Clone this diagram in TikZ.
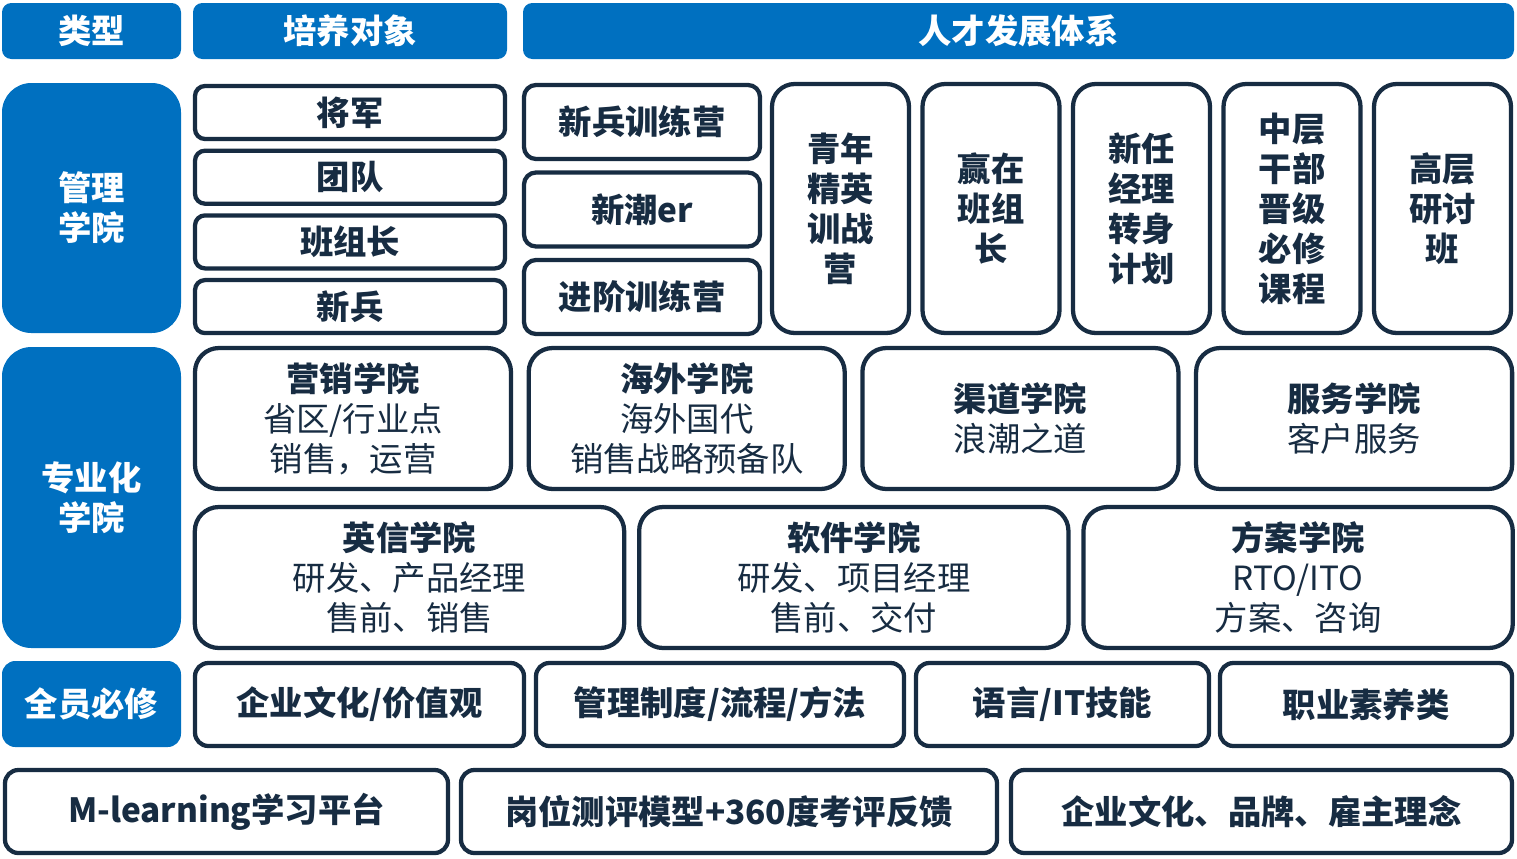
\documentclass[tikz,border=0pt]{standalone}
\usepackage{fontspec}
\setmainfont{Noto Sans CJK SC}
\definecolor{hdblue}{HTML}{0070C0}
\definecolor{navy}{HTML}{172C42}

\begin{document}
\begin{tikzpicture}[
		x=0.75pt,y=-0.75pt,
		head/.style={
			fill=hdblue,
			draw=none,
			text=white,
			font=\fontsize{25}{30}\selectfont\bfseries,
			align=center,
			inner sep=0pt,
			rounded corners=#1
		},
		head/.default=7pt,
		cell/.style={
			draw=navy,
			line width=3.2pt,
			fill=white,
			text=navy,
			font=\fontsize{25}{30}\selectfont\bfseries,
			align=center,
			inner sep=0pt,
			rounded corners=#1
		},
		cell/.default=7.5pt,
		acad/.style={
			cell=18pt,
			font=\fontsize{25}{30}\selectfont\mdseries
		}
		]
		\useasboundingbox (0,0) rectangle (1517,858);
		% Header row
		\foreach \nm/\xa/\xb/\txt in {type/2/181/类型, target/193/507/培养对象, system/523/1514/人才发展体系}
			\node[head, minimum width={(\xb-\xa)*0.75pt}, minimum height=42pt] (\nm) at ({(\xa+\xb)/2},31) {\txt};
		% Category column
		\node[head=22pt, minimum width=134.25pt, minimum height=187.5pt] (mgmt) at (91.5,208) {管理\\学院};
		\node[head=22pt, minimum width=134.25pt, minimum height=225.75pt] (prof) at (91.5,497.5) {专业化\\学院};
		\node[head=10pt, minimum width=134.25pt, minimum height=64.5pt] (all) at (91.5,704) {全员必修};
		% Targets
		\foreach \txt [count=\i] in {将军,团队,班组长,新兵}
			\node[cell, minimum width=232.5pt, minimum height=39.75pt] (tgt-\i) at (350,{112.5+(\i-1)*64.7}) {\txt};
		% Camps
		\foreach \txt [count=\i] in {新兵训练营,新潮er,进阶训练营}
			\node[cell=9pt, minimum width=177pt, minimum height=55.5pt] (camp-\i) at (642,{122+(\i-1)*87.5}) {\txt};
		% Programmes
		\foreach \txt [count=\i] in {{青年\\精英\\训战\\营},{赢在\\班组\\长},{新任\\经理\\转身\\计划},{中层\\干部\\晋级\\必修\\课程},{高层\\研讨\\班}}
			\node[cell=17pt, minimum width=102.75pt, minimum height=186.75pt] (prog-\i) at ({840.5+(\i-1)*150.5},208.5) {\txt};
		% Academies, upper row
		\foreach \txt [count=\i] in {{\textbf{营销学院}\\省区/行业点\\销售，运营},{\textbf{海外学院}\\海外国代\\销售战略预备队},{\textbf{渠道学院}\\浪潮之道},{\textbf{服务学院}\\客户服务}}
			\node[acad, minimum width=237pt, minimum height=105.75pt] (acad-\i) at ({353+(\i-1)*333.7},418.5) {\txt};
		% Academies, lower row
		\foreach \txt [count=\i] in {{\textbf{英信学院}\\研发、产品经理\\售前、销售},{\textbf{软件学院}\\研发、项目经理\\售前、交付},{\textbf{方案学院}\\RTO/ITO\\方案、咨询}}
			\node[acad, minimum width=322pt, minimum height=105.75pt] (acad-\the\numexpr\i+4\relax) at ({409.5+(\i-1)*444.3},577.5) {\txt};
		% Compulsory row
		\foreach \nm/\xa/\xb/\txt in {req-1/193/526/{企业文化/价值观}, req-2/534/906/{管理制度/流程/方法}, req-3/914/1211/{语言/IT技能}, req-4/1218/1514/{职业素养类}}
			\node[cell=10pt, minimum width={(\xb-\xa-4)*0.75pt}, minimum height=62.25pt] (\nm) at ({(\xa+\xb)/2},704.5) {\txt};
		% Base row
		\foreach \nm/\xa/\xb/\txt in {base-1/3/450/{M-learning学习平台}, base-2/459/999/{岗位测评模型+360度考评反馈}, base-3/1009/1514/{企业文化、品牌、雇主理念}}
			\node[cell=10pt, minimum width={(\xb-\xa-4)*0.75pt}, minimum height=62.25pt] (\nm) at ({(\xa+\xb)/2},811.5) {\txt};
\end{tikzpicture}
\end{document}
